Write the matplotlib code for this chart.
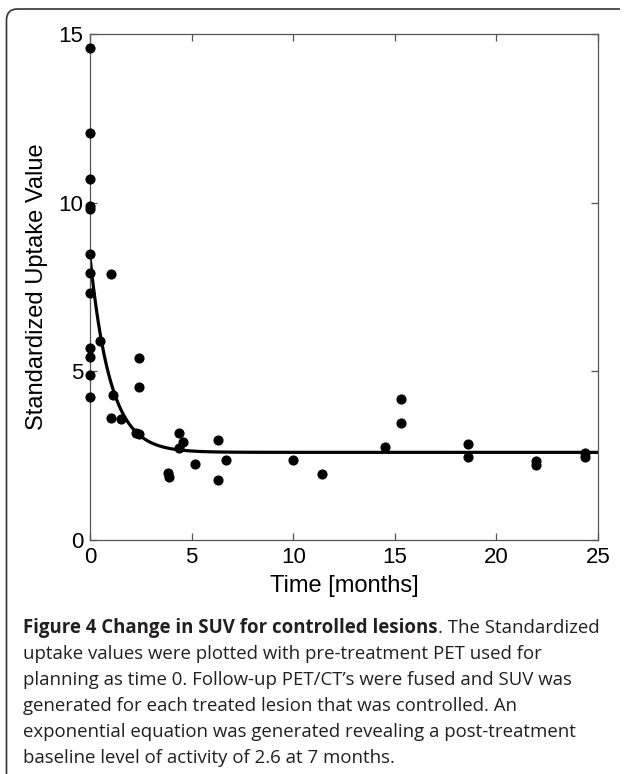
import matplotlib
matplotlib.use("Agg")
import matplotlib.pyplot as plt
import numpy as np
from matplotlib.path import Path
from matplotlib.patches import PathPatch

## SUV measurements (months after pre-treatment PET, SUV)
months = [0, 0, 0, 0, 0, 0, 0, 0, 0, 0, 0, 0,
          0.49, 1.02, 1.03, 1.13, 1.52, 2.25, 2.41, 2.41, 2.41,
          3.84, 3.9, 4.4, 4.4, 4.56, 5.18, 6.31, 6.31, 6.71,
          10.0, 11.4, 14.52, 15.3, 15.3, 18.6, 18.6, 21.97, 21.97, 24.36, 24.36]
suv = [14.59, 12.07, 10.7, 9.91, 9.81, 8.49, 7.91, 7.34, 5.69, 5.42, 4.9, 4.25,
       5.9, 7.88, 3.63, 4.29, 3.58, 3.17, 3.15, 5.39, 4.55,
       2.0, 1.88, 3.17, 2.72, 2.92, 2.26, 2.96, 1.77, 2.38,
       2.36, 1.95, 2.76, 4.17, 3.47, 2.86, 2.47, 2.35, 2.22, 2.57, 2.47]

## exponential fit
fit_baseline = 2.6
fit_amplitude = 5.8
fit_rate = 1.0

x_ticks = [0, 5, 10, 15, 20, 25]
y_ticks = [0, 5, 10, 15]

caption_bold = "Figure 4 Change in SUV for controlled lesions"
caption_first = ". The Standardized"
caption_lines = [
    "uptake values were plotted with pre-treatment PET used for",
    "planning as time 0. Follow-up PET/CT\u2019s were fused and SUV was",
    "generated for each treated lesion that was controlled. An",
    "exponential equation was generated revealing a post-treatment",
    "baseline level of activity of 2.6 at 7 months.",
]

W, H = 624, 774
fig = plt.figure(figsize=(W / 100, H / 100), dpi=100)
plt.rcParams["font.family"] = ["Liberation Sans", "DejaVu Sans"]

ax = fig.add_axes([90 / W, 1 - 540 / H, (598 - 90) / W, (540 - 34.3) / H])
t_fit = np.linspace(0, 25, 500)
ax.plot(t_fit, fit_baseline + fit_amplitude * np.exp(-fit_rate * t_fit),
        color="black", lw=2.3, zorder=2)
ax.plot(months, suv, "o", color="black", ms=6.3, zorder=3, clip_on=False)

ax.set_xlim(0, 25)
ax.set_ylim(0, 15)
ax.set_xticks(x_ticks)
ax.set_yticks(y_ticks)
for s in ax.spines.values():
    s.set_color("#555555")
    s.set_linewidth(0.9)
ax.tick_params(direction="in", length=5, width=0.9, color="#555555",
               top=True, right=True, labelsize=16, pad=5, labelcolor="black")
ax.set_xlabel("Time [months]", fontsize=17, labelpad=5)
ax.set_ylabel("Standardized Uptake Value", fontsize=17, labelpad=7)

## border box with rounded top-left corner
def fx(px):
    return px / W


def fy(py):
    return 1 - py / H


verts = [(fx(6.5), fy(774)), (fx(6.5), fy(20)), (fx(6.5), fy(9)), (fx(17.5), fy(9)), (fx(620), fy(9))]
codes = [Path.MOVETO, Path.LINETO, Path.CURVE3, Path.CURVE3, Path.LINETO]
fig.add_artist(PathPatch(Path(verts, codes), transform=fig.transFigure,
                         fill=False, edgecolor="#333333", lw=1.2))

## caption
cap_kw = dict(fontsize=13.4, family=["Open Sans", "DejaVu Sans"], color="#231f20", va="baseline")
t1 = fig.text(fx(23), fy(633), caption_bold, fontweight="bold", **cap_kw)
fig.canvas.draw()
bb = t1.get_window_extent(fig.canvas.get_renderer())
fig.text(bb.x1 / fig.bbox.width, fy(633), caption_first, **cap_kw)
for i, line in enumerate(caption_lines):
    fig.text(fx(23), fy(659 + 26 * i), line, **cap_kw)

fig.savefig("out.png", dpi=100)
